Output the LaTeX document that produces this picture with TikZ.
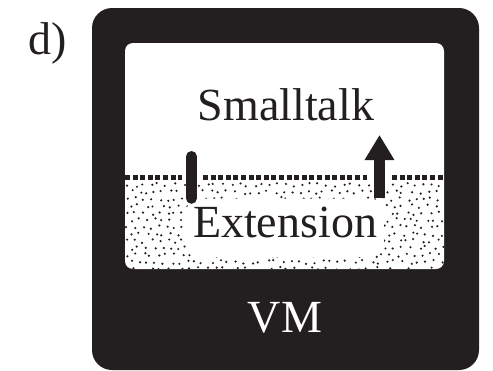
\documentclass[tikz,border=0pt]{standalone}
\usepackage{fontspec}
\setmainfont{Liberation Serif}
\usepackage{tikz}
\definecolor{ink}{HTML}{231F20}
\usetikzlibrary{positioning, calc, arrows.meta}

\begin{document}
\begin{tikzpicture}[
    x=1pt, y=-1pt,
    % Node styles
    layer text/.style={
        anchor=base,
        inner sep=0pt,
        font=\fontsize{46}{50}\selectfont,
        text=ink
    },
    cloud node/.style={
        layer text,
        fill=white,
        rounded corners=14pt,
        inner xsep=7pt,
        inner ysep=8pt,
        text depth=12pt
    },
    border line/.style={
        draw=ink,
        line width=5pt,
        dash pattern=on 5pt off 2.6pt
    },
    hook/.style={
        draw=ink,
        line width=11pt,
        line cap=round
    },
    lift/.style={
        draw=ink,
        line width=11pt,
        -{Triangle[length=25pt, width=28pt]}
    },
    grain/.style={
        fill=ink
    }
]

\useasboundingbox (0,0) rectangle (493,370);

% Frame sizes
\def\outerr{20pt}
\def\innerr{8pt}
\def\lineY{177}

% Black VM frame and white window
\fill[ink, rounded corners=\outerr] (92,8) rectangle (479,370);
\fill[white, rounded corners=\innerr] (125,43) rectangle (444,269);

% Stippled extension layer (jittered grid)
\begin{scope}
    \clip[rounded corners=\innerr] (125,\lineY+4) rectangle (444,269);
    \pgfmathsetseed{4711}
    \foreach \j in {0,...,12} {
        \pgfmathsetmacro{\shift}{4*mod(\j,2)}
        \foreach \i in {0,...,40} {
            \fill[grain] ({127+8*\i+\shift+2.5*rand}, {185+7*\j+2*rand}) circle (1.2pt);
        }
    }
\end{scope}

% Boundary between the layers
\draw[border line] (125,\lineY) -- (182,\lineY);
\draw[border line] (203,\lineY) -- (367,\lineY);
\draw[border line] (392,\lineY) -- (444,\lineY);

% Layer labels
\node[cloud node] (ext) at (285,237) {Extension};
\node[layer text] (talk) at (286,120) {Smalltalk};
\node[layer text, text=white] (vm) at (285,332) {VM};
\node[layer text] (tag) at (48,54) {d)};

% Hook and lift through the boundary
\coordinate (hook top) at (191.5,156.5);
\coordinate (lift tip) at (379.5,135);
\draw[hook] (ext.north -| hook top) -- (hook top);
\draw[lift] (ext.north -| lift tip) -- (lift tip);

\end{tikzpicture}
\end{document}
